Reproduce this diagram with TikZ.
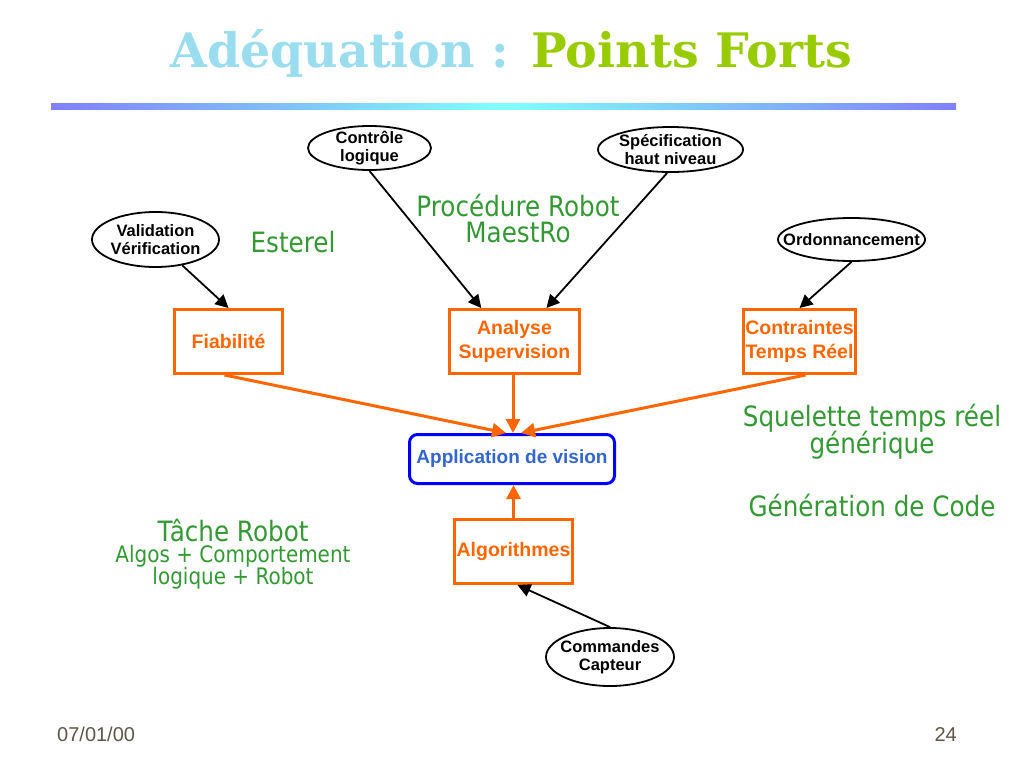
\documentclass[tikz,border=0pt]{standalone}
\usepackage{fontspec}
\setmainfont{Liberation Sans}
\newfontfamily\titlefont{DejaVu Serif}
\newfontfamily\greenfont{DejaVu Sans}[FakeStretch=0.88]
\usetikzlibrary{arrows.meta,shapes.geometric,calc}
\definecolor{titlecyan}{HTML}{99DDEE}
\definecolor{titlegreen}{HTML}{99CC00}
\definecolor{barblue}{HTML}{8080F8}
\definecolor{barcyan}{HTML}{80FFFF}
\definecolor{orng}{HTML}{FF6600}
\definecolor{grn}{HTML}{339933}
\definecolor{appblue}{HTML}{0000FF}
\definecolor{apptext}{HTML}{3366CC}
\definecolor{foot}{HTML}{5F5549}
\tikzset{
  ell/.style={ellipse,draw=black,line width=1.8pt,inner sep=0pt},
  elltxt/.style={inner sep=0pt,align=center,font=\fontsize{16.5}{18}\selectfont\bfseries},
  obox/.style={rectangle,draw=orng,line width=3pt,inner sep=0pt,align=center,
    text=orng,font=\fontsize{19.5}{24}\selectfont\bfseries,minimum height=64pt},
  appbox/.style={rectangle,rounded corners=8pt,draw=appblue,line width=3pt,inner sep=0pt,
    text=apptext,font=\fontsize{19}{24}\selectfont\bfseries,minimum width=205pt,minimum height=49pt},
  gtxt/.style={text=grn,inner sep=0pt,align=center},
  big/.style={font=\greenfont\fontsize{28}{27}\selectfont},
  small/.style={font=\greenfont\fontsize{22.7}{22}\selectfont},
  blarrow/.style={draw=black,line width=1.8pt,-{Triangle[length=13pt,width=13pt]}},
  orarrow/.style={draw=orng,line width=3pt,-{Triangle[length=14pt,width=14pt]}},
  foottxt/.style={text=foot,font=\fontsize{20}{22}\selectfont,inner sep=0pt}
}
\begin{document}
\begin{tikzpicture}[x=1pt,y=-1pt]
\useasboundingbox[fill=white] (0,0) rectangle (1024,768);
% title
\node[anchor=base,inner sep=0pt,font=\titlefont\bfseries\fontsize{47.5}{50}\selectfont] (title) at (511,67)
  {\textcolor{titlecyan}{Adéquation :} \textcolor{titlegreen}{Points Forts}};
\shade[left color=barblue,right color=barblue,middle color=barcyan] (51,103) rectangle (956,109);
% ellipses
\node[ell,minimum width=123pt,minimum height=44pt] (ctrl) at (369.5,148) {};
\node[elltxt] (ctrlt) at (ctrl.center) {Contrôle\\logique};
\node[ell,minimum width=145pt,minimum height=45pt] (spec) at (670.5,149.5) {};
\node[elltxt] (spect) at (spec.center) {Spécification\\haut niveau};
\node[ell,minimum width=127pt,minimum height=55pt] (val) at (155.5,239.5) {};
\node[elltxt] (valt) at (val.center) {Validation\\Vérification};
\node[ell,minimum width=147pt,minimum height=43pt] (ord) at (851.5,239.5) {};
\node[elltxt] (ordt) at (ord.center) {Ordonnancement};
\node[ell,minimum width=128pt,minimum height=58pt] (cmd) at (610,657) {};
\node[elltxt] (cmdt) at (cmd.center) {Commandes\\Capteur};
% boxes
\node[obox,minimum width=108pt] (fia) at (228.5,341.5) {Fiabilité};
\node[obox,minimum width=130pt] (ana) at (514.5,341.5) {Analyse\\Supervision};
\node[obox,minimum width=112pt] (cont) at (799.5,341.5) {Contraintes\\Temps Réel};
\node[appbox] (app) at (512,459) {Application de vision};
\node[obox,minimum width=118pt] (algo) at (513.5,551.5) {Algorithmes};
% green texts
\node[gtxt,big] (est) at (293,242) {Esterel};
\node[gtxt,big] (proc1) at (518,205) {Procédure Robot};
\node[gtxt,big] (proc2) at (518,232) {MaestRo};
\node[gtxt,big] (sq1) at (872,418) {Squelette temps réel};
\node[gtxt,big] (sq2) at (872,445) {générique};
\node[gtxt,big] (gen) at (872,505) {Génération de Code};
\node[gtxt,big] (tache) at (233,530) {Tâche Robot};
\node[gtxt,small] (algos) at (233,556) {Algos + Comportement};
\node[gtxt,small] (logi) at (233,578) {logique + Robot};
% footer
\node[foottxt,anchor=base west] (date) at (57,741) {07/01/00};
\node[foottxt,anchor=base east] (page) at (957,741) {24};
% black arrows
\draw[blarrow] (val.-44) -- (fia.north);
\draw[blarrow] (ctrl.south) -- ($(ana.north west)!0.25!(ana.north east)$);
\draw[blarrow] (spec.-98) -- ($(ana.north west)!0.74!(ana.north east)$);
\draw[blarrow] (ord.south) -- (cont.north);
\draw[blarrow] (cmd.north) -- ($(algo.south)+(4,0)$);
% orange arrows
\draw[orarrow] ($(fia.south)+(-4,0)$) -- ($(app.north)+(-6,0)$);
\draw[orarrow] ($(ana.south)+(-1.5,0)$) -- ($(ana.south |- app.north)+(-1.5,0)$);
\draw[orarrow] ($(cont.south)+(6,0)$) -- ($(app.north)+(9,0)$);
\draw[orarrow] (algo.north) -- (algo.north |- app.south);
\end{tikzpicture}
\end{document}
